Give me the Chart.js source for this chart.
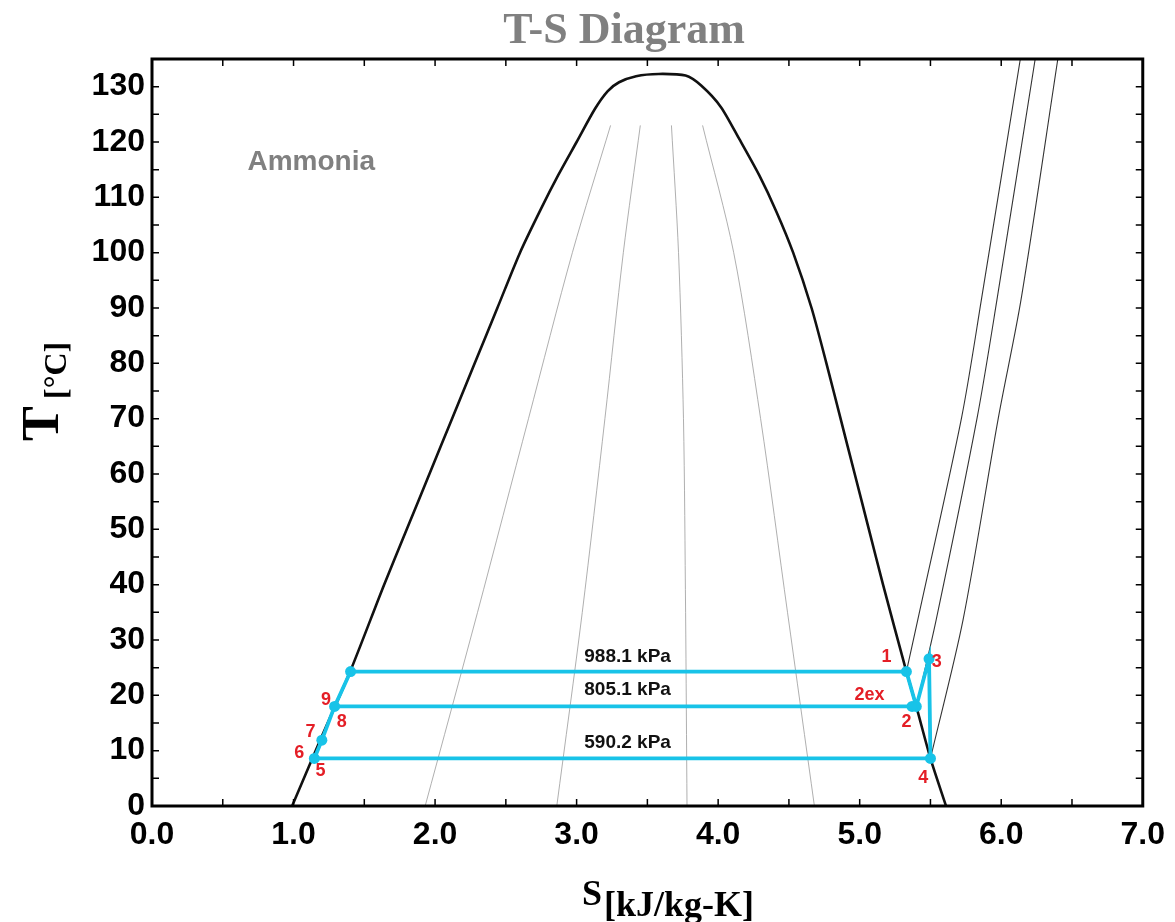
<!DOCTYPE html>
<html>
<head>
<meta charset="utf-8">
<script src="https://cdn.jsdelivr.net/npm/chart.js@4.4.0/dist/chart.umd.min.js"></script>
<style>
  body { margin: 0; background: #fff; }
</style>
</head>
<body>
<canvas id="tsChart" width="1175" height="922"></canvas>
<script>
// saturation dome of ammonia (s in kJ/kg-K, T in C)
const satS = [0.99, 1.19, 1.40, 1.64, 1.80, 1.96, 2.12, 2.28, 2.44, 2.60, 2.75, 2.87, 3.00, 3.13, 3.22, 3.30, 3.42, 3.58,
              3.77, 3.88, 4.02, 4.15, 4.29, 4.41, 4.53, 4.66, 4.765, 4.865, 4.965, 5.065, 5.165, 5.33, 5.40, 5.50, 5.61];
const satT = [0, 12, 24.3, 40, 50, 60, 70, 80, 90, 100, 108, 114, 120, 126, 129.2, 130.8, 131.9, 132.3,
              132.0, 130.2, 126.3, 120.5, 114, 107.5, 100, 90, 80, 70, 60, 50, 40, 24.3, 18, 8.6, 0];

// constant quality lines inside the dome
const qualT = [0, 35, 70, 100, 123];
const qual20 = [1.93, 2.30, 2.66, 2.97, 3.24];
const qual40 = [2.86, 3.04, 3.20, 3.33, 3.45];
const qual60 = [3.78, 3.77, 3.755, 3.72, 3.67];
const qual80 = [4.68, 4.49, 4.30, 4.11, 3.89];

// superheated isobars
const p988S = [5.33, 5.41, 5.72, 5.86, 6.135];
const p988T = [24.3, 33.6, 70.2, 91.5, 135];
const p805S = [5.40, 5.54, 5.83, 5.97, 6.24];
const p805T = [18, 33.6, 70.2, 91.5, 135];
const p590S = [5.50, 5.73, 5.98, 6.14, 6.40];
const p590T = [8.6, 33.6, 70.2, 91.5, 135];

// cycle state points
const cycleS = { top: 1.403, p1: 5.33, p8: 1.29, p2ex: 5.37, p2: 5.40, p7: 1.20, p5: 1.147, p4: 5.50, p3: 5.49 };
const tHigh = 24.3, tMid = 18.0, tLow = 8.6, t7 = 11.9, t3 = 26.6;

// labels
const pressLabels = ['988.1 kPa', '805.1 kPa', '590.2 kPa'];
const pressT = [26.9, 21.0, 11.4];
const pressS = 3.36;
const ptLabels = ['1', '3', '2ex', '2', '4', '9', '8', '7', '6', '5'];
const ptLabelS = [5.19, 5.545, 5.07, 5.33, 5.45, 1.23, 1.34, 1.12, 1.04, 1.19];
const ptLabelT = [26.9, 26.0, 20.1, 15.2, 5.1, 19.2, 15.2, 13.4, 9.6, 6.3];

function pts(xs, ys) {
  return xs.map((x, i) => ({ x: x, y: Array.isArray(ys) ? ys[i] : ys }));
}

const CYAN = '#18c3e8';
const RED = '#e41e26';
const SANS = '"Liberation Sans", Arial, sans-serif';
const SERIF = '"Liberation Serif", "Times New Roman", serif';

function cycleLine(data) {
  return { data: data, showLine: true, borderColor: CYAN, borderWidth: 3.8, pointRadius: 0, tension: 0 };
}
function thinLine(data, color, w, tension) {
  return { data: data, showLine: true, borderColor: color, borderWidth: w, pointRadius: 0, tension: tension || 0 };
}

const decor = {
  id: 'decor',
  afterDatasetsDraw(chart) {
    const ctx = chart.ctx;
    const xs = chart.scales.x, ys = chart.scales.y;
    const a = chart.chartArea;
    ctx.save();

    // inward tick marks on all four sides
    ctx.strokeStyle = '#000';
    ctx.lineWidth = 1.5;
    ctx.beginPath();
    for (let v = 0.5; v < 7; v += 0.5) {
      const px = xs.getPixelForValue(v);
      ctx.moveTo(px, a.bottom); ctx.lineTo(px, a.bottom - 7);
      ctx.moveTo(px, a.top); ctx.lineTo(px, a.top + 7);
    }
    for (let v = 5; v < 135; v += 5) {
      const py = ys.getPixelForValue(v);
      ctx.moveTo(a.left, py); ctx.lineTo(a.left + 7, py);
      ctx.moveTo(a.right, py); ctx.lineTo(a.right - 7, py);
    }
    ctx.stroke();

    // frame
    ctx.lineWidth = 3;
    ctx.strokeRect(a.left, a.top, a.right - a.left, a.bottom - a.top);

    // Ammonia label
    ctx.fillStyle = '#808080';
    ctx.font = 'bold 28px ' + SANS;
    ctx.textAlign = 'center';
    ctx.textBaseline = 'middle';
    ctx.fillText('Ammonia', xs.getPixelForValue(1.125), ys.getPixelForValue(116.3));

    // pressure labels
    ctx.fillStyle = '#111';
    ctx.font = 'bold 19px ' + SANS;
    pressLabels.forEach((t, i) => {
      ctx.fillText(t, xs.getPixelForValue(pressS), ys.getPixelForValue(pressT[i]));
    });

    // state point numbers
    ctx.fillStyle = RED;
    ctx.font = 'bold 18px ' + SANS;
    ptLabels.forEach((t, i) => {
      ctx.fillText(t, xs.getPixelForValue(ptLabelS[i]), ys.getPixelForValue(ptLabelT[i]));
    });

    // title
    ctx.fillStyle = '#808080';
    ctx.font = 'bold 44px ' + SERIF;
    ctx.textBaseline = 'alphabetic';
    ctx.fillText('T-S Diagram', 624, 43);

    // x axis title with subscript
    ctx.fillStyle = '#000';
    ctx.textAlign = 'left';
    ctx.font = 'bold 36px ' + SERIF;
    ctx.fillText('S', 582, 905);
    ctx.fillText('[kJ/kg-K]', 604, 916);

    // y axis title with subscript
    ctx.translate(58, 441);
    ctx.rotate(-Math.PI / 2);
    ctx.font = 'bold 52px ' + SERIF;
    ctx.fillText('T', 0, 0);
    ctx.font = 'bold 32px ' + SERIF;
    ctx.fillText('[°C]', 42, 8);
    ctx.restore();
  }
};

new Chart(document.getElementById('tsChart'), {
  type: 'scatter',
  data: {
    datasets: [
      cycleLine(pts([cycleS.top, cycleS.p1], tHigh)),
      cycleLine(pts([cycleS.p8, cycleS.p2], tMid)),
      cycleLine(pts([cycleS.p5, cycleS.p4], tLow)),
      cycleLine(pts([cycleS.p5, cycleS.p7, cycleS.p8, cycleS.top], [tLow, t7, tMid, tHigh])),
      cycleLine(pts([cycleS.p1, cycleS.p2, cycleS.p3, cycleS.p4], [tHigh, tMid, t3, tLow])),
      {
        data: pts([cycleS.top, cycleS.p1, cycleS.p8, cycleS.p2ex, cycleS.p2, cycleS.p7, cycleS.p5, cycleS.p4, cycleS.p3],
                  [tHigh, tHigh, tMid, tMid, tMid, t7, tLow, tLow, t3]),
        showLine: false, pointRadius: 5.5, pointBackgroundColor: CYAN, pointBorderColor: CYAN, pointBorderWidth: 0
      },
      thinLine(pts(satS, satT), '#111', 2.6, 0.25),
      thinLine(pts(qual20, qualT), '#9a9a9a', 0.8, 0.3),
      thinLine(pts(qual40, qualT), '#9a9a9a', 0.8, 0.3),
      thinLine(pts(qual60, qualT), '#9a9a9a', 0.8, 0.3),
      thinLine(pts(qual80, qualT), '#9a9a9a', 0.8, 0.3),
      thinLine(pts(p988S, p988T), '#333', 1.1, 0.3),
      thinLine(pts(p805S, p805T), '#333', 1.1, 0.3),
      thinLine(pts(p590S, p590T), '#333', 1.1, 0.3)
    ]
  },
  options: {
    responsive: false,
    devicePixelRatio: 1,
    animation: false,
    layout: { padding: { top: 59, right: 25, left: 0, bottom: 0 } },
    plugins: { legend: { display: false }, tooltip: { enabled: false }, title: { display: false } },
    scales: {
      x: {
        type: 'linear', min: 0, max: 7,
        grid: { display: false, drawTicks: false },
        border: { display: false },
        afterFit(scale) { scale.height = 116; },
        ticks: {
          stepSize: 1, padding: 10, color: '#000',
          font: { family: SANS, size: 32, weight: 'bold' },
          callback: v => v.toFixed(1)
        }
      },
      y: {
        type: 'linear', min: 0, max: 135,
        grid: { display: false, drawTicks: false },
        border: { display: false },
        afterFit(scale) { scale.width = 152; },
        ticks: {
          stepSize: 10, padding: 7, color: '#000', includeBounds: false,
          font: { family: SANS, size: 32, weight: 'bold' }
        }
      }
    }
  },
  plugins: [decor]
});
</script>
</body>
</html>
